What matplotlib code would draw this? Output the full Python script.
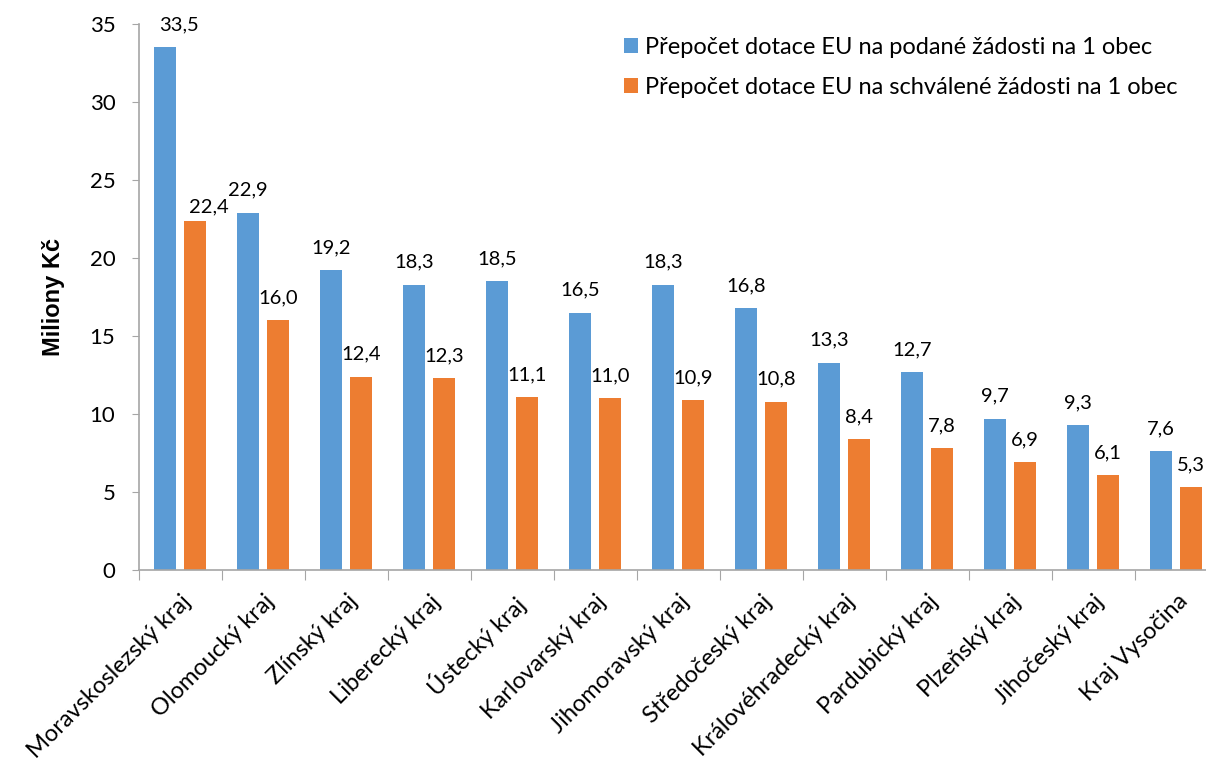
import matplotlib.pyplot as plt
import numpy as np

kraje = ["Moravskoslezský kraj", "Olomoucký kraj", "Zlínský kraj", "Liberecký kraj",
         "Ústecký kraj", "Karlovarský kraj", "Jihomoravský kraj", "Středočeský kraj",
         "Královéhradecký kraj", "Pardubický kraj", "Plzeňský kraj", "Jihočeský kraj",
         "Kraj Vysočina"]
podane = [33.5, 22.9, 19.2, 18.3, 18.5, 16.5, 18.3, 16.8, 13.3, 12.7, 9.7, 9.3, 7.6]
schvalene = [22.4, 16.0, 12.4, 12.3, 11.1, 11.0, 10.9, 10.8, 8.4, 7.8, 6.9, 6.1, 5.3]

plt.rcParams['font.family'] = ['Lato', 'DejaVu Sans']

fig = plt.figure(figsize=(12.06, 7.63), dpi=100)
ax = fig.add_axes([139/1206, 1 - 570/763, (1218 - 139)/1206, (570 - 24)/763])

x = np.arange(len(kraje))
w = 0.26
b1 = ax.bar(x - 0.185, podane, w, color="#5B9BD5", label="Přepočet dotace EU na podané žádosti na 1 obec")
b2 = ax.bar(x + 0.175, schvalene, w, color="#ED7D31", label="Přepočet dotace EU na schválené žádosti na 1 obec")

for bars, vals in [(b1, podane), (b2, schvalene)]:
    for i, (r, v) in enumerate(zip(bars, vals)):
        dx = 10 if i == 0 else 0   # first group labels sit a bit to the right
        dy = 4 if (i == 0 and bars is b2) else 10
        ax.annotate(f"{v:.1f}".replace(".", ","), (r.get_x() + r.get_width()/2, v),
                    xytext=(dx, dy), textcoords="offset points", ha="center", va="bottom",
                    fontsize=14.5)

ax.set_xlim(-0.5, len(kraje) - 0.5)
ax.set_ylim(0, 35)
ax.set_yticks(range(0, 36, 5))
ax.tick_params(axis="y", labelsize=16, length=5, color="#A6A6A6", pad=12)

ax.set_xticks(np.arange(len(kraje) + 1) - 0.5)
ax.set_xticklabels([])
ax.tick_params(axis="x", which="major", length=7, color="#A6A6A6")
ax.set_xticks(x, minor=True)
ax.set_xticklabels(kraje, minor=True, rotation=45, ha="right", rotation_mode="anchor", fontsize=17)
ax.tick_params(axis="x", which="minor", length=0, pad=15)

for s in ["top", "right"]:
    ax.spines[s].set_visible(False)
for s in ["left", "bottom"]:
    ax.spines[s].set_color("#A6A6A6")
    ax.spines[s].set_linewidth(1.2)

ax.set_ylabel("Miliony Kč", fontsize=17, fontweight="bold", family=["Liberation Sans"], labelpad=18)

ax.legend(loc="upper left", bbox_to_anchor=(0.43, 1.015), frameon=False, fontsize=17,
          handlelength=0.6, handleheight=0.6, handletextpad=0.3, labelspacing=0.8)

fig.savefig("out.png", dpi=100)
